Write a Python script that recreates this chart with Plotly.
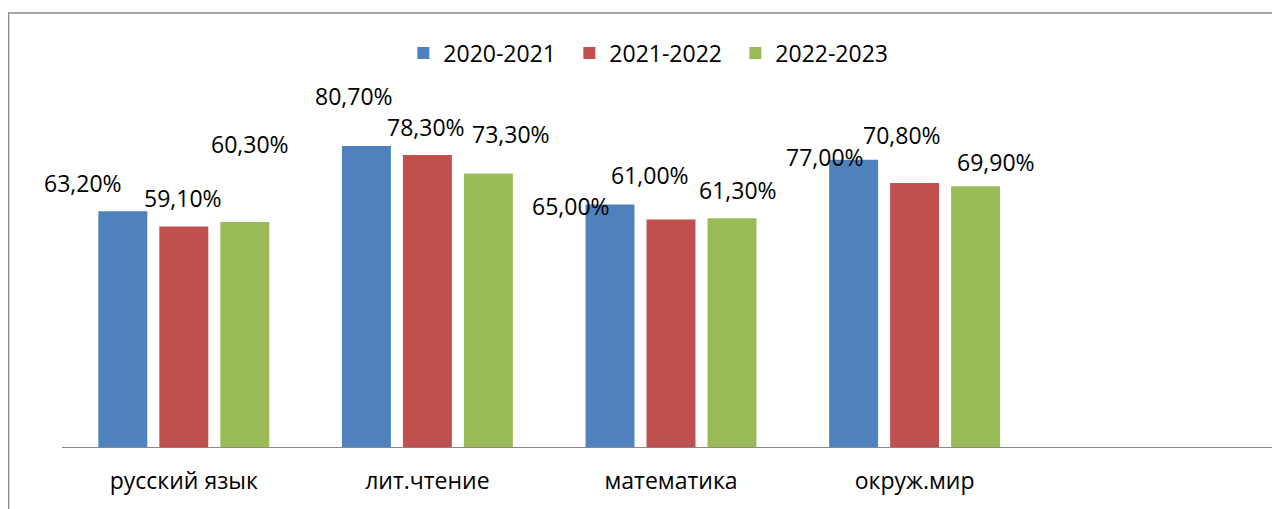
import plotly.graph_objects as go

categories = ["русский язык", "лит.чтение", "математика", "окруж.мир", " "]
series_names = ["2020-2021", "2021-2022", "2022-2023"]
v2020 = [63.2, 80.7, 65.0, 77.0]
v2021 = [59.1, 78.3, 61.0, 70.8]
v2022 = [60.3, 73.3, 61.3, 69.9]
label_texts = [
    ["63,20%", "80,70%", "65,00%", "77,00%"],
    ["59,10%", "78,30%", "61,00%", "70,80%"],
    ["60,30%", "73,30%", "61,30%", "69,90%"],
]
colors = ["#4F81BD", "#C0504D", "#9BBB59"]

# label pixel offsets (style only): (xshift from category centre, yshift from bar top)
label_offsets = [
    [(-101, 28), (-73, 50), (-100, -1), (-90, 3)],
    [(-1, 29), (-1, 28), (-21, 44), (-13, 48)],
    [(66, 78), (84, 40), (67, 28), (81, 24)],
]

FONT = "Open Sans"
FS = 23
fig = go.Figure()
all_vals = [v2020, v2021, v2022]
for name, vals, col in zip(series_names, all_vals, colors):
    fig.add_trace(go.Bar(
        x=categories[:len(vals)], y=vals, name=name,
        marker=dict(color=col, line=dict(width=0)),
    ))

for s, vals in enumerate(all_vals):
    for i, v in enumerate(vals):
        dx, dy = label_offsets[s][i]
        fig.add_annotation(
            x=categories[i], y=v, xref="x", yref="y",
            text=label_texts[s][i], showarrow=False,
            xshift=dx, yshift=dy, xanchor="center", yanchor="middle",
            font=dict(family=FONT, size=FS, color="#000000"),
        )

fig.add_shape(type="rect", xref="paper", yref="paper",
              x0=-0.0439, x1=1.05, y0=-0.3, y1=1.1635,
              line=dict(color="#8a8a8a", width=1.5), fillcolor="rgba(0,0,0,0)", layer="below")

fig.update_layout(
    width=1272, height=501,
    margin=dict(l=54, r=0, t=66, b=62),
    paper_bgcolor="white", plot_bgcolor="white",
    barmode="group", bargap=0.249, bargroupgap=0.197,
    font=dict(family=FONT, size=FS, color="#000000"),
    legend=dict(orientation="h", x=0.4847, xanchor="center", y=1.056, yanchor="middle",
                entrywidth=121, entrywidthmode="pixels",
                font=dict(family=FONT, size=FS, color="#000000"),
                bgcolor="rgba(0,0,0,0)", itemclick=False),
    xaxis=dict(type="category", categoryorder="array", categoryarray=categories,
               range=[-0.5, 4.5], showline=True, linecolor="#888888", linewidth=1,
               ticks="outside", ticklen=13, tickcolor="rgba(0,0,0,0)",
               showgrid=False, zeroline=False,
               tickfont=dict(family=FONT, size=FS, color="#000000")),
    yaxis=dict(range=[0, 100], showgrid=False, zeroline=False, showline=False,
               showticklabels=False, ticks=""),
)

fig.write_html("out.html")
